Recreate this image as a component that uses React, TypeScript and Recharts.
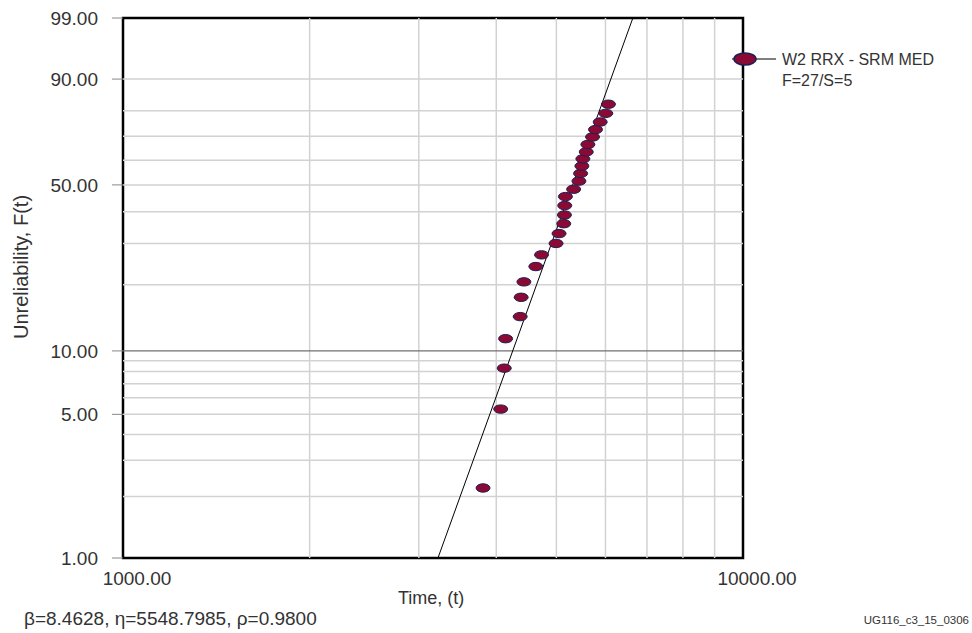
import React from 'react';
import { ScatterChart, Scatter, XAxis, YAxis, ReferenceLine, ReferenceArea } from 'recharts';

// Failure times (t) and median-rank unreliability (%)
const failureTimes = [3808, 4066, 4120, 4141, 4371, 4387, 4432, 4633, 4732, 4994, 5050, 5139, 5152, 5158, 5171, 5331, 5437, 5471, 5497, 5517, 5587, 5621, 5719, 5782, 5884, 6007, 6067];
const unreliabilityPct = [2.2, 5.3, 8.3, 11.4, 14.4, 17.6, 20.6, 24.0, 26.9, 30.0, 32.9, 36.0, 38.9, 42.2, 45.5, 48.3, 51.5, 54.6, 57.6, 60.6, 63.5, 66.6, 69.7, 72.7, 75.7, 79.0, 82.3];

// Fitted Weibull line end points (beta=8.4628, eta=5548.7985)
const fitTimes = [3221, 6643];
const fitPct = [1, 99];

const yTickPct = [1, 5, 10, 50, 90, 99];
const yGridPct = [2, 3, 4, 5, 6, 7, 8, 9, 10, 20, 30, 40, 50, 60, 70, 80, 90];
const xTicks = [1000, 10000];
const xGrid = [2000, 3000, 4000, 5000, 6000, 7000, 8000, 9000];

const weib = (p: number) => Math.log(-Math.log(1 - p / 100));
const yMin = weib(1);
const yMax = weib(99);

const points = failureTimes.map((t, i) => ({ t, z: weib(unreliabilityPct[i]) }));
const fitLine = fitTimes.map((t, i) => ({ t, z: weib(fitPct[i]) }));

const FONT = '"Liberation Sans", Arial, Helvetica, sans-serif';
const TXT = '#333333';

const Ellipse = (props: any) => {
  const { cx, cy } = props;
  if (cx == null || cy == null) return null;
  return <ellipse cx={cx} cy={cy} rx={7} ry={4.2} fill="#8B0A33" stroke="#1f1f55" strokeWidth={1} />;
};

const XTick = (props: any) => {
  const { x, y, payload } = props;
  return (
    <text x={x + 14} y={y + 27} textAnchor="middle" fontSize={19} fill={TXT} fontFamily={FONT}>
      {Number(payload.value).toFixed(2)}
    </text>
  );
};

export default function App() {
  return (
    <div style={{ position: 'absolute', left: 0, top: 0, width: 972, height: 633, background: '#fff', fontFamily: FONT }}>
      <ScatterChart width={972} height={633} margin={{ top: 18, right: 229, bottom: 0, left: 0 }}>
        <XAxis
          type="number"
          dataKey="t"
          scale="log"
          domain={[1000, 10000]}
          ticks={xTicks}
          allowDataOverflow
          axisLine={false}
          tickLine={false}
          tickSize={0}
          tickMargin={0}
          height={75}
          tick={<XTick />}
        />
        <YAxis
          type="number"
          dataKey="z"
          domain={[yMin, yMax]}
          ticks={yTickPct.map(weib)}
          allowDataOverflow
          width={123}
          axisLine={false}
          tickLine={{ stroke: '#888', strokeWidth: 1 }}
          tickSize={11}
          tickMargin={14}
          tick={{ fontSize: 19, fill: TXT, fontFamily: FONT }}
          tickFormatter={(v: number) => {
            const p = (1 - Math.exp(-Math.exp(v))) * 100;
            return (Math.round(p)).toFixed(2);
          }}
          label={{
            content: () => (
              <text x={28} y={267} transform="rotate(-90 28 267)" textAnchor="middle" fontSize={20} fill={TXT} fontFamily={FONT}>
                Unreliability, F(t)
              </text>
            ),
          }}
        />
        {xGrid.map((v) => (
          <ReferenceLine key={'x' + v} x={v} stroke="#d2d2d2" strokeWidth={1.5} ifOverflow="visible" />
        ))}
        {yGridPct.map((p) => (
          <ReferenceLine key={'y' + p} y={weib(p)} stroke={p === 10 ? '#707070' : '#d2d2d2'} strokeWidth={p === 10 ? 1.2 : 1.5} ifOverflow="visible" />
        ))}
        <ReferenceArea x1={1000} x2={10000} y1={yMin} y2={yMax} fill="none" fillOpacity={0} stroke="#000" strokeWidth={2.5} ifOverflow="visible" />
        <Scatter data={fitLine} line={{ stroke: '#000', strokeWidth: 1 }} shape={() => null} isAnimationActive={false} />
        <Scatter data={points} shape={<Ellipse />} isAnimationActive={false} />
      </ScatterChart>

      {/* Legend */}
      <div style={{ position: 'absolute', left: 730, top: 49, width: 240 }}>
        <svg width={50} height={20} style={{ position: 'absolute', left: 0, top: 0 }}>
          <line x1={2} y1={10} x2={46} y2={10} stroke="#000" strokeWidth={1} />
          <ellipse cx={15} cy={10} rx={11} ry={6} fill="#8B0A33" stroke="#1f1f55" strokeWidth={1.5} />
        </svg>
        <div style={{ position: 'absolute', left: 52, top: 0, fontSize: 16, lineHeight: '21px', color: TXT, whiteSpace: 'nowrap' }}>
          W2 RRX - SRM MED
          <br />
          F=27/S=5
        </div>
      </div>

      <div style={{ position: 'absolute', left: 398, top: 588, fontSize: 18, color: TXT, whiteSpace: 'nowrap' }}>Time, (t)</div>
      <div style={{ position: 'absolute', left: 24, top: 608, fontSize: 19, color: TXT, whiteSpace: 'nowrap' }}>
        β=8.4628, η=5548.7985, ρ=0.9800
      </div>
      <div style={{ position: 'absolute', right: 3, top: 614, fontSize: 11.5, color: TXT, whiteSpace: 'nowrap' }}>UG116_c3_15_0306</div>
    </div>
  );
}
